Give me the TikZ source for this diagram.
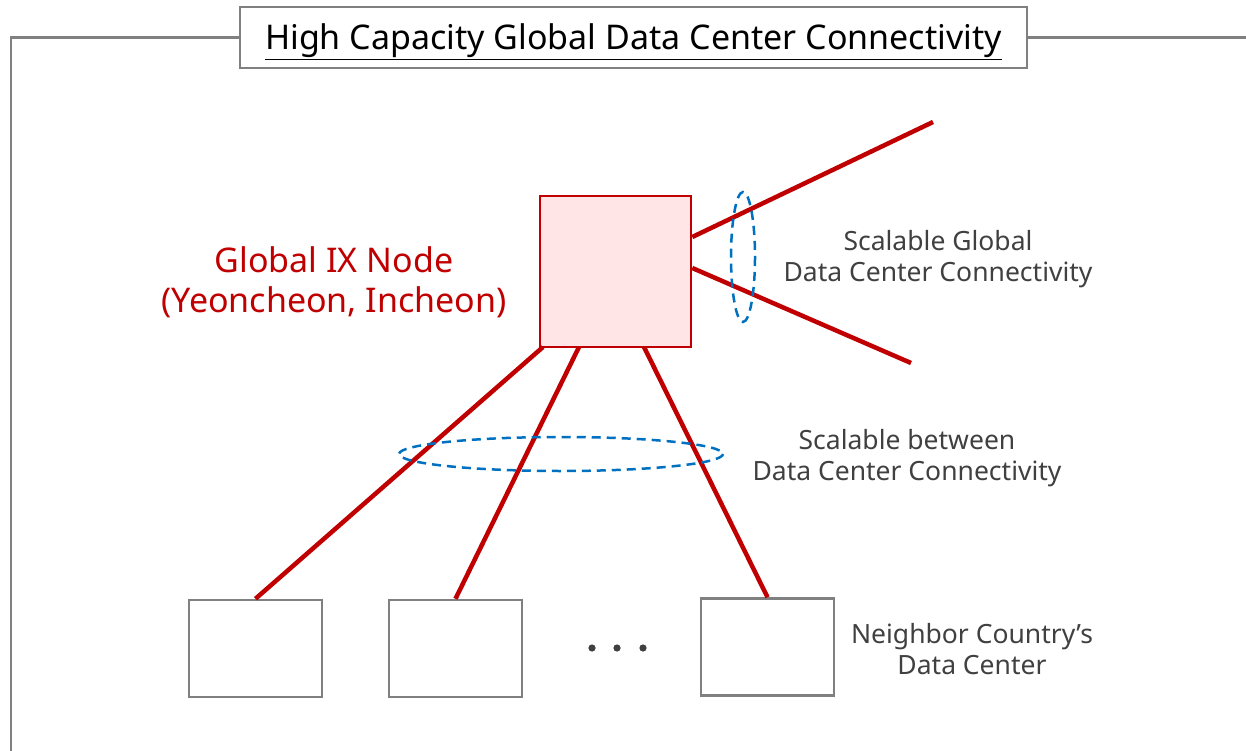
\documentclass[tikz,border=0pt]{standalone}
\usepackage{fontspec}
\setmainfont{Noto Sans}
\usetikzlibrary{calc}
\definecolor{ixred}{HTML}{C00000}
\definecolor{ixpink}{HTML}{FFE5E6}
\definecolor{frgray}{HTML}{808080}
\definecolor{txgray}{HTML}{404040}
\definecolor{dblue}{HTML}{0070C0}
\tikzset{
  redlink/.style={draw=ixred, line width=4.5pt},
  dcbox/.style={draw=frgray, line width=2.5pt, minimum width=133pt, minimum height=97pt, inner sep=0pt},
  grp/.style={draw=dblue, line width=2.5pt, dash pattern=on 9pt off 6pt},
  lbl/.style={text=txgray, font=\fontsize{26.5}{31.5}\selectfont, align=center},
}
\begin{document}
\begin{tikzpicture}[x=1pt,y=-1pt]
\useasboundingbox (0,0) rectangle (1246,751);
% title
\node[draw=frgray, line width=2.5pt, minimum width=787pt, minimum height=61pt, inner sep=0pt] (title) at (633.5,37.5) {\fontsize{34}{40}\selectfont\raisebox{-12.5pt}[0pt][0pt]{\underline{High Capacity Global Data Center Connectivity}}};
\coordinate (fl) at (11,751);
\coordinate (fr) at (1246,37.5);
\draw[frgray, line width=2.5pt] (fl) |- (title.west);
\draw[frgray, line width=2.5pt] (title.east) -- (fr);
% IX node
\node[draw=ixred, fill=ixpink, line width=2.5pt, minimum width=151pt, minimum height=151pt, inner sep=0pt] (ix) at (615.5,271.5) {};
\node[text=ixred, font=\fontsize{34}{40}\selectfont, align=center] (ixl) at (334,282) {Global IX Node\\(Yeoncheon, Incheon)};
% global links
\coordinate (g1) at (933,122);
\coordinate (g2) at (911,363);
\draw[redlink] (ix.east |- 0,237) -- (g1);
\draw[redlink] (ix.east |- 0,268) -- (g2);
% data centers
\node[dcbox] (dc1) at (255.5,648.5) {};
\node[dcbox] (dc2) at (455.5,648.5) {};
\node[dcbox] (dc3) at (767.5,647) {};
\draw[redlink] (543,347) coordinate (s1) -- (dc1.north);
\draw[redlink] (579,347) coordinate (s2) -- (dc2.north);
\draw[redlink] (644,347) coordinate (s3) -- (dc3.north);
% dots
\foreach \x/\n in {592/d1,617/d2,643/d3}
  \fill[txgray] (\x,648) circle (3.6pt) coordinate (\n);
% ellipses
\draw[grp] (743,257) ellipse (12 and 65);
\draw[grp] (561,454) ellipse (162 and 17);
% labels
\node[lbl] (l1) at (938,259) {Scalable Global\\Data Center Connectivity};
\node[lbl] (l2) at (907,458) {Scalable between\\Data Center Connectivity};
\node[lbl] (l3) at (972,649) {Neighbor Country’s\\Data Center};
\end{tikzpicture}
\end{document}
